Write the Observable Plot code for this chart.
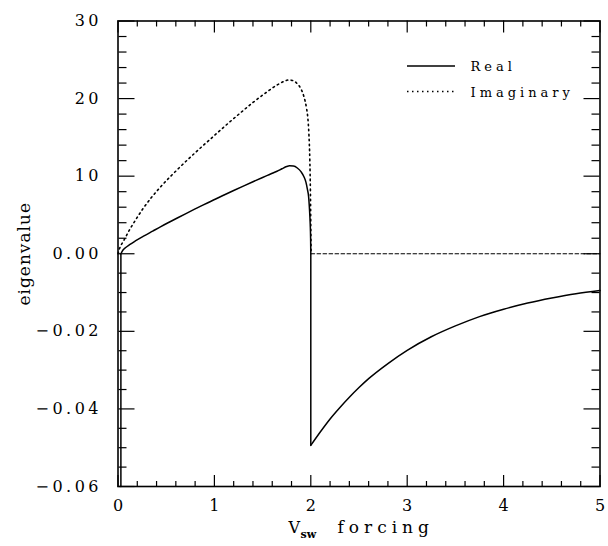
<!DOCTYPE html>
<html>
<head>
<meta charset="utf-8">
<script src="https://cdn.jsdelivr.net/npm/d3@7"></script>
<script src="https://cdn.jsdelivr.net/npm/@observablehq/plot@0.6"></script>
<style>
  body { margin: 0; background: #fff; }
  svg text { font-family: "DejaVu Serif", serif; }
  g[aria-label="y-axis tick label"] text,
  g[aria-label="x-axis tick label"] text { letter-spacing: 3.5px; }
  .legend text { letter-spacing: 4px; }
</style>
</head>
<body>
<div id="chart"></div>
<script>
// Real part of the eigenvalue (x = V_sw forcing)
const realX = [0.03, 0.03, 0.05, 0.08, 0.12, 0.18, 0.27, 0.36, 0.44, 0.53, 0.62, 0.7, 0.79, 0.88, 0.96, 1.03, 1.1, 1.2, 1.3, 1.4, 1.5, 1.55, 1.6, 1.65, 1.7, 1.75, 1.78, 1.82, 1.86, 1.9, 1.93, 1.95, 1.965, 1.977, 1.987, 1.994, 1.998, 2.0,
               2.0, 2.1, 2.2, 2.3, 2.4, 2.5, 2.6, 2.8, 3.0, 3.25, 3.5, 3.75, 4.0, 4.25, 4.5, 4.75, 5.0];
const realY = [-0.06, 0, 0.45, 0.8, 1.17, 1.65, 2.3, 2.92, 3.47, 4.06, 4.64, 5.15, 5.71, 6.26, 6.74, 7.16, 7.57, 8.15, 8.72, 9.28, 9.83, 10.1, 10.37, 10.63, 10.95, 11.25, 11.33, 11.3, 11.05, 10.55, 9.9, 9.2, 8.3, 7.4, 5.6, 3.8, 2.0, 0,
               -0.0494, -0.0459, -0.0426, -0.0397, -0.0370, -0.0345, -0.0322, -0.0283, -0.0249, -0.0214, -0.0186, -0.0162, -0.0143, -0.0127, -0.0114, -0.0103, -0.0095];

// Imaginary part of the eigenvalue
const imagX = [0, 0.01, 0.06, 0.13, 0.2, 0.27, 0.35, 0.44, 0.62, 0.79, 0.96, 1.1, 1.25, 1.4, 1.55, 1.65, 1.72, 1.77, 1.82, 1.86, 1.9, 1.93, 1.955, 1.97, 1.98, 1.99, 1.996, 2.0, 2.003, 5.0];
const imagY = [0, 0.45, 1.7, 3.3, 4.7, 6.0, 7.3, 8.6, 10.9, 12.9, 14.8, 16.35, 17.95, 19.5, 20.9, 21.75, 22.2, 22.4, 22.3, 21.9, 21.2, 20.2, 18.8, 17.4, 15.5, 12.0, 8.0, 3.5, 0, 0];
const imagBreak = 2.003; // dotted before, dashed after

// Axis ticks
const xMajor = [0, 1, 2, 3, 4, 5];
const xLabels = ["0", "1", "2", "3", "4", "5"];
const yMajor = [-0.06, -0.04, -0.02, 0, 10, 20, 30];
const yLabels = ["\u22120.06", "\u22120.04", "\u22120.02", "0.00", "10", "20", "30"];
const yMinorUpper = [2, 4, 6, 8, 12, 14, 16, 18, 22, 24, 26, 28];
const yMinorLower = [-0.055, -0.05, -0.045, -0.035, -0.03, -0.025, -0.015, -0.01, -0.005];
const xMinor = d3.range(0, 5.0001, 0.2).filter(v => Math.abs(v - Math.round(v)) > 1e-6);

const seriesNames = ["Real", "Imaginary"];
const yTitle = "eigenvalue";
const xTitle = ["V", "sw", "forcing"];

// Split the real curve into smooth pieces and vertical jumps (same x twice)
let seg = 0;
const real = realX.map((x, i) => {
  if (i > 0 && x === realX[i - 1]) seg++;
  return {x, y: realY[i], seg};
});
const jumps = [];
realX.forEach((x, i) => {
  if (i > 0 && x === realX[i - 1]) jumps.push({x1: realX[i - 1], y1: realY[i - 1], x2: x, y2: realY[i]});
});
const imag = imagX.map((x, i) => ({x, y: imagY[i]}));
const imagOsc = imag.filter(d => d.x <= imagBreak);
const imagZero = imag.filter(d => d.x >= imagBreak);
const yMinor = yMinorLower.concat(yMinorUpper);

const tickStyle = {fill: "none", label: null, stroke: "black", strokeWidth: 1.2};

const plot = Plot.plot({
  width: 608,
  height: 546,
  marginLeft: 117.5,
  marginRight: 8.5,
  marginTop: 20.5,
  marginBottom: 60,
  style: "font-family: 'DejaVu Serif', serif; font-size: 16px; background: white; color: black;",
  x: {domain: [0, 5]},
  y: {type: "linear", domain: [-0.06, 0, 30], range: [486, 253.25, 20.5]},
  marks: [
    // inward tick marks on all four sides
    Plot.axisX(xMajor, {anchor: "top", frameAnchor: "bottom", tickSize: 12, ...tickStyle}),
    Plot.axisX(xMinor, {anchor: "top", frameAnchor: "bottom", tickSize: 6, ...tickStyle}),
    Plot.axisX(xMajor, {anchor: "bottom", frameAnchor: "top", tickSize: 12, ...tickStyle}),
    Plot.axisX(xMinor, {anchor: "bottom", frameAnchor: "top", tickSize: 6, ...tickStyle}),
    Plot.axisY(yMajor, {anchor: "right", frameAnchor: "left", tickSize: 16, ...tickStyle}),
    Plot.axisY(yMinor, {anchor: "right", frameAnchor: "left", tickSize: 8, ...tickStyle}),
    Plot.axisY(yMajor, {anchor: "left", frameAnchor: "right", tickSize: 16, ...tickStyle}),
    Plot.axisY(yMinor, {anchor: "left", frameAnchor: "right", tickSize: 8, ...tickStyle}),
    // tick labels
    Plot.axisX(xMajor, {anchor: "bottom", tickSize: 0, tickPadding: 13.5, dx: 1.75, label: null,
      tickFormat: d => xLabels[xMajor.indexOf(d)], fontSize: 16}),
    Plot.axisY(yMajor, {anchor: "left", tickSize: 0, tickPadding: 16, label: null,
      tickFormat: d => yLabels[yMajor.indexOf(d)], fontSize: 16}),
    Plot.frame({stroke: "black", strokeWidth: 1.6}),
    // data
    Plot.line(real, {x: "x", y: "y", z: "seg", stroke: "black", strokeWidth: 1.5, curve: "monotone-x"}),
    Plot.link(jumps, {x1: "x1", y1: "y1", x2: "x2", y2: "y2", stroke: "black", strokeWidth: 1.5}),
    Plot.line(imagOsc, {x: "x", y: "y", stroke: "black", strokeWidth: 1.6, strokeDasharray: "1.5 3.5", curve: "monotone-x"}),
    Plot.line(imagZero, {x: "x", y: "y", stroke: "black", strokeWidth: 1.2, strokeDasharray: "3.5 2.5"}),
    // axis titles
    Plot.text([yTitle], {text: d => d, frameAnchor: "left", textAnchor: "middle", rotate: -90, dx: -93, fontSize: 17}),
    Plot.text([xTitle[0]], {text: d => d, frameAnchor: "bottom", textAnchor: "start", lineAnchor: "bottom", dx: -70.5, dy: 46.5, fontSize: 16}),
    Plot.text([xTitle[1]], {text: d => d, frameAnchor: "bottom", textAnchor: "start", lineAnchor: "bottom", dx: -58.5, dy: 51, fontSize: 11, fontWeight: "bold"}),
    Plot.text([xTitle[2]], {text: d => d, frameAnchor: "bottom", textAnchor: "start", lineAnchor: "bottom", dx: -21.5, dy: 46.5, fontSize: 17})
  ]
});

const svg = d3.select(plot);
// letter spacing for the axis titles
svg.selectAll("text").filter(function () { return this.textContent === yTitle; }).style("letter-spacing", "1px");
svg.selectAll("text").filter(function () { return this.textContent === xTitle[2]; }).style("letter-spacing", "5px");

// Legend (top right, inside the frame)
const lg = svg.append("g").attr("class", "legend").attr("font-size", 13)
  .attr("font-family", "'DejaVu Serif', serif").attr("text-anchor", "start");
const legendRows = [
  {name: seriesNames[0], dash: null, y: 66},
  {name: seriesNames[1], dash: "1.5 3.5", y: 91.5}
];
legendRows.forEach(r => {
  lg.append("line").attr("x1", 407).attr("x2", 455).attr("y1", r.y).attr("y2", r.y)
    .attr("stroke", "black").attr("stroke-width", 1.5).attr("stroke-dasharray", r.dash);
  lg.append("text").attr("x", 470.5).attr("y", r.y + 5).attr("fill", "black").text(r.name);
});

document.getElementById("chart").appendChild(plot);
</script>
</body>
</html>
